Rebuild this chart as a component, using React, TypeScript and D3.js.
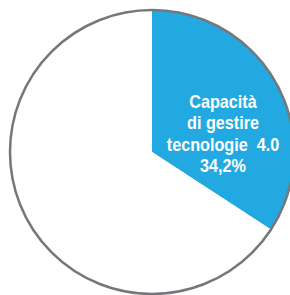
import { useEffect, useRef } from "react";
import * as d3 from "d3";

const labels = ["Capacità di gestire tecnologie 4.0", "Altro"];
const values = [34.2, 65.8];
const colors = ["#22a9e1", "#ffffff"];
const labelLines = ["Capacità", "di gestire", "tecnologie  4.0", "34,2%"];

export default function App() {
  const svgRef = useRef<SVGSVGElement>(null);

  useEffect(() => {
    if (!svgRef.current) return;
    const W = 290;
    const H = 295;
    const cx = 152;
    const cy = 152;
    const r = 142;

    const svg = d3.select(svgRef.current);
    svg.selectAll("*").remove();

    const pie = d3.pie<number>().sort(null).value((d) => d);
    const arcs = pie(values);
    const arc = d3.arc<d3.PieArcDatum<number>>().innerRadius(0).outerRadius(r);

    const g = svg.append("g").attr("transform", `translate(${cx},${cy})`);

    g.selectAll("path.slice")
      .data(arcs)
      .join("path")
      .attr("class", "slice")
      .attr("d", arc)
      .attr("fill", (_d, i) => colors[i])
      .append("title")
      .text((_d, i) => labels[i]);

    g.append("circle")
      .attr("r", r)
      .attr("fill", "none")
      .attr("stroke", "#76777b")
      .attr("stroke-width", 2.5);

    // label inside the blue slice, squeezed to look condensed
    const lineH = 21.3;
    const t = g.append("text")
      .attr("transform", "translate(71,0) scale(0.9,1)")
      .attr("text-anchor", "middle")
      .attr("fill", "#ffffff")
      .attr("font-family", "'Liberation Sans', Arial, sans-serif")
      .attr("font-weight", "bold")
      .attr("font-size", 18)
      .style("white-space", "pre");

    t.selectAll("tspan")
      .data(labelLines)
      .join("tspan")
      .attr("x", 0)
      .attr("y", (_d, i) => -44 + i * lineH)
      .text((d) => d);

    svg.attr("width", W).attr("height", H);
  }, []);

  return (
    <svg
      ref={svgRef}
      width={290}
      height={295}
      style={{ position: "absolute", left: 0, top: 0, display: "block" }}
    />
  );
}
